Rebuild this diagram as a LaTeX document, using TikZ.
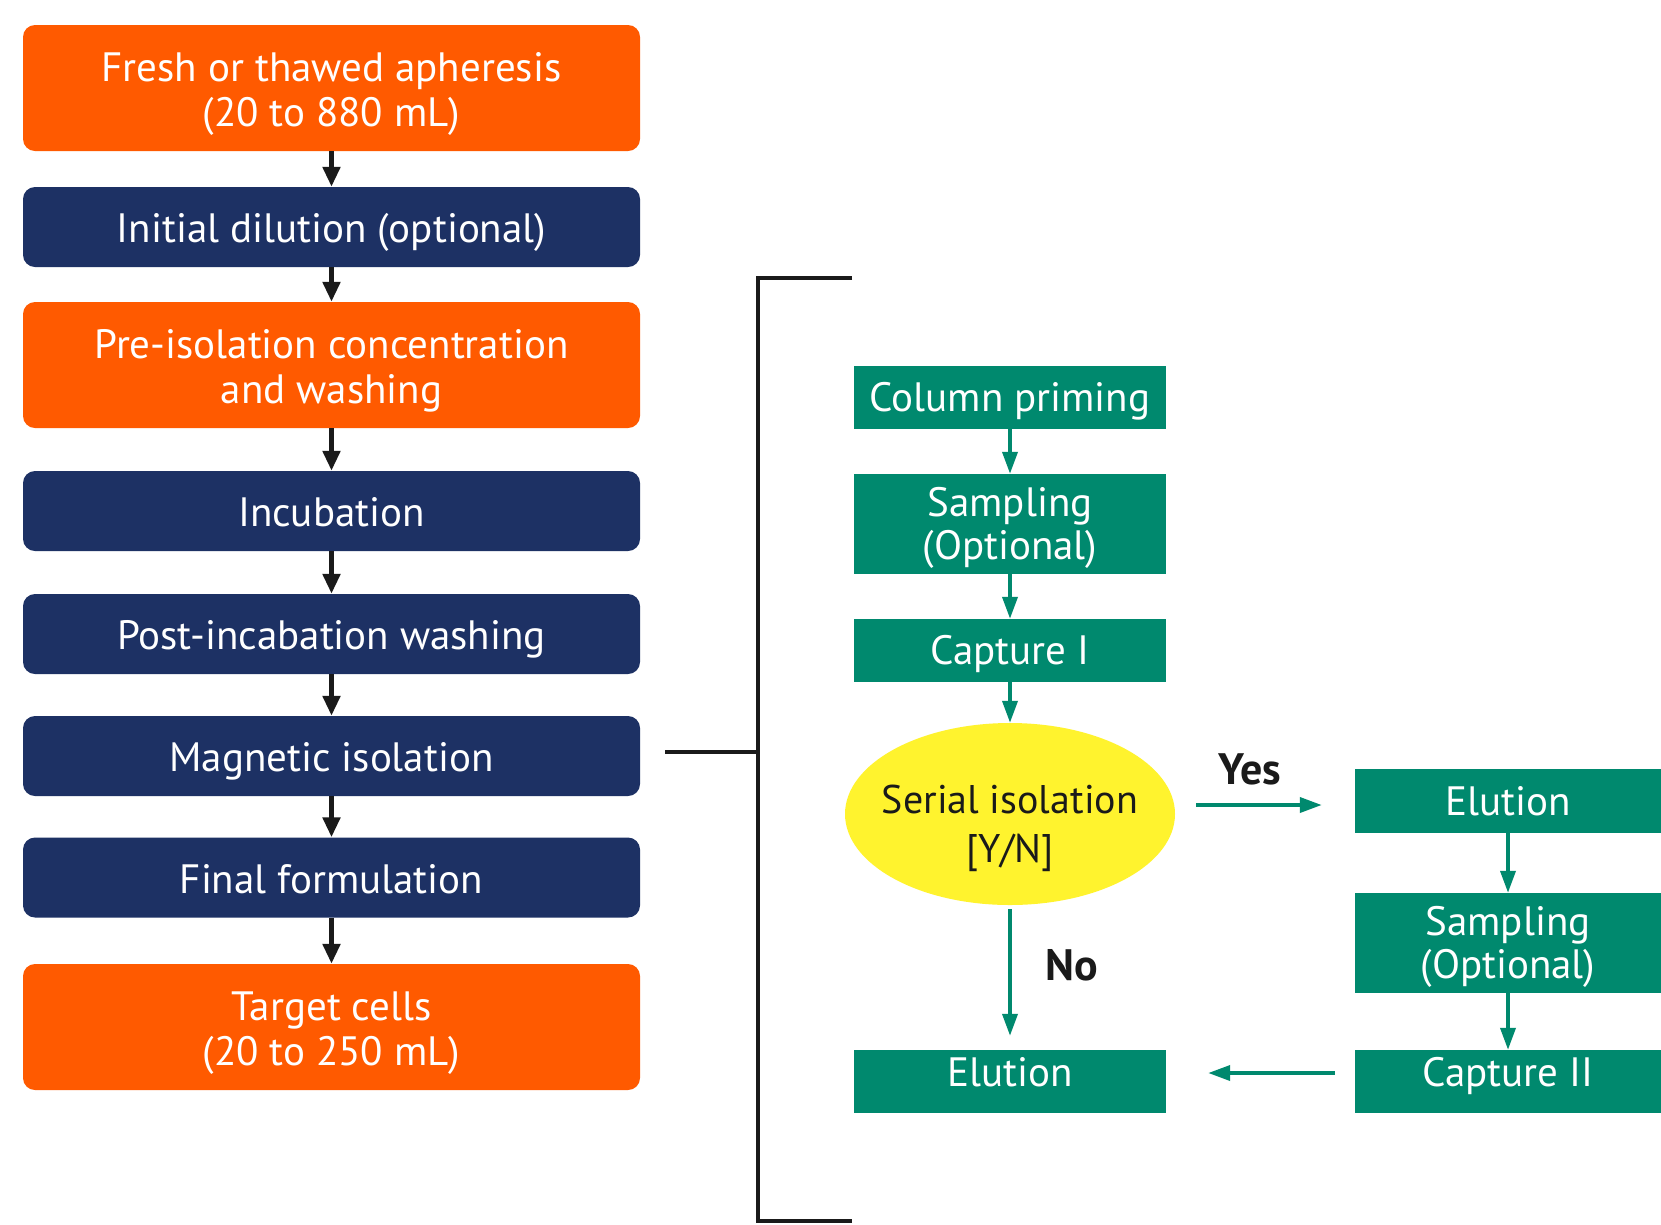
\documentclass[tikz,border=0pt]{standalone}
\usepackage{fontspec}
\setmainfont{PT Sans}
\usetikzlibrary{arrows.meta,shapes.geometric,calc}
\definecolor{orng}{RGB}{255,90,0}
\definecolor{navy}{RGB}{29,49,100}
\definecolor{grn}{RGB}{0,137,110}
\definecolor{yel}{RGB}{255,243,46}
\definecolor{blk}{RGB}{26,26,26}
\tikzset{
  lbox/.style={rounded corners=12pt, minimum width=617pt, text=white, align=center,
    font=\fontsize{41}{44.5}\selectfont, inner sep=0pt},
  obox/.style={lbox, fill=orng, minimum height=126pt, text height=76.4pt, text depth=0pt},
  nbox/.style={lbox, fill=navy, minimum height=80pt, text height=31pt, text depth=0pt},
  gbox/.style={fill=grn, text=white, align=center, inner sep=0pt,
    font=\fontsize{41}{43}\selectfont, minimum width=312pt, text height=28.7pt, text depth=0pt},
  gtwo/.style={minimum height=100pt, text height=71.7pt, text depth=0pt},
  rbox/.style={gbox, minimum width=306pt},
  barrow/.style={draw=blk, line width=5pt, -{Triangle[length=20pt,width=17pt]}},
  garrow/.style={draw=grn, line width=3.7pt, -{Triangle[length=22pt,width=15pt]}},
  lbl/.style={font=\fontsize{44}{48}\selectfont\bfseries, text=blk},
  brk/.style={draw=blk, line width=4pt}
}
\begin{document}
\begin{tikzpicture}[x=1pt,y=-1pt]
\useasboundingbox[fill=white] (0,0) rectangle (1661,1224);
% left column
\node[obox] (b1) at (331.5,88) {Fresh or thawed apheresis\\(20 to 880 mL)};
\node[nbox] (b2) at (331.5,227) {Initial dilution (optional)};
\node[obox] (b3) at (331.5,365) {Pre-isolation concentration\\and washing};
\node[nbox] (b4) at (331.5,511) {Incubation};
\node[nbox] (b5) at (331.5,634) {Post-incabation washing};
\node[nbox] (b6) at (331.5,756) {Magnetic isolation};
\node[nbox] (b7) at (331.5,877.5) {Final formulation};
\node[obox] (b8) at (331.5,1027) {Target cells\\(20 to 250 mL)};
\foreach \a/\b in {b1/b2,b2/b3,b3/b4,b4/b5,b5/b6,b6/b7,b7/b8}
  \draw[barrow] (\a.south) -- (\b.north);
% bracket
\coordinate (bs) at (665,752);
\coordinate (bm) at (758,752);
\coordinate (bt) at (758,277.5);
\coordinate (bb) at (758,1221);
\draw[brk] (bs) -- (bm);
\draw[brk, line join=miter] (852,277.5) -- (bt) -- (bb) -- (852,1221);
% green column
\node[gbox, minimum height=63pt] (cp) at (1010,397) {Column priming};
\node[gbox, gtwo] (s1) at (1010,524) {Sampling\\(Optional)};
\node[gbox, minimum height=63pt] (c1) at (1010,650.5) {Capture I};
\node[ellipse, fill=yel, minimum width=330pt, minimum height=182pt, inner xsep=-30pt, inner ysep=0pt,
  align=center, font=\fontsize{40}{48.7}\selectfont, text=blk,
  text height=96.7pt, text depth=0pt] (ell) at (1010,814) {Serial isolation\\{[Y/N]}};
\node[gbox, minimum height=63pt, text depth=18pt] (e1) at (1010,1081.5) {Elution};
\node[rbox, minimum height=64pt] (e2) at (1508,801) {Elution};
\node[rbox, gtwo] (s2) at (1508,943) {Sampling\\(Optional)};
\node[rbox, minimum height=63pt, text depth=18pt] (c2) at (1508,1081.5) {Capture II};
\draw[garrow] (cp.south) -- (s1.north);
\draw[garrow] (s1.south) -- (c1.north);
\draw[garrow] (c1.south) -- (ell.north);
\draw[garrow] (e2.south) -- (s2.north);
\draw[garrow] (s2.south) -- (c2.north);
\draw[garrow, shorten <=21pt, shorten >=33pt] ($(ell.east |- e2)+(0,4)$) -- ($(e2.west)+(0,4)$);
\draw[garrow, shorten <=4pt, shorten >=14pt] (ell.south) -- (e1.north);
\draw[garrow, shorten <=20pt, shorten >=42pt] ($(c2.west)+(0,-8.5)$) -- ($(e1.east)+(0,-8.5)$);
\node[lbl] (yes) at (1250,769) {Yes};
\node[lbl] (no) at (1072,965) {No};
\end{tikzpicture}
\end{document}
